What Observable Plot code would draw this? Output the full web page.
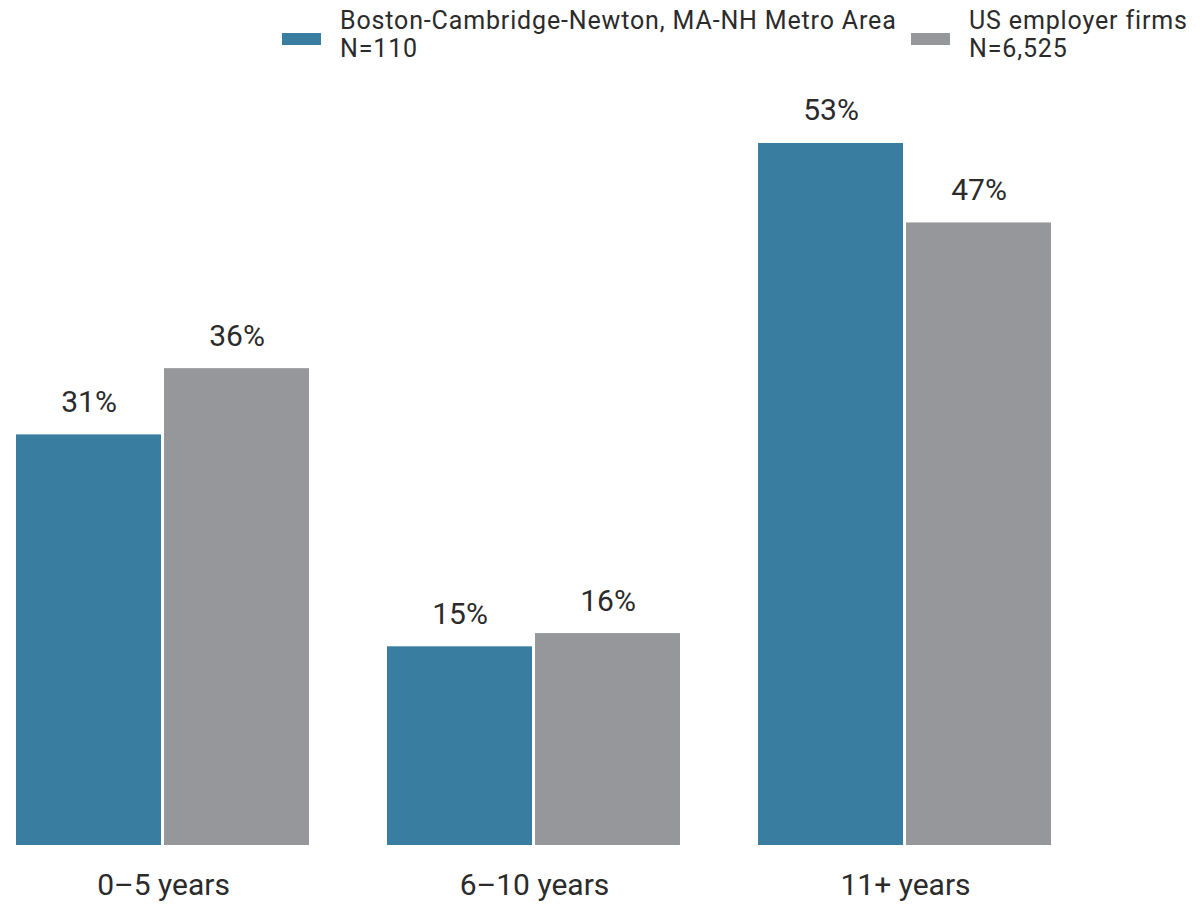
<!DOCTYPE html>
<html>
<head>
<meta charset="utf-8">
<script src="https://cdn.jsdelivr.net/npm/d3@7"></script>
<script src="https://cdn.jsdelivr.net/npm/@observablehq/plot@0.6"></script>
<style>
  html, body { margin: 0; padding: 0; background: #fff; }
  body { font-family: Roboto, "Noto Sans", sans-serif; color: #2b2b2b; width: 1204px; }
  #legend { position: relative; height: 75px; width: 1204px; }
  .item { position: absolute; top: 7px; display: flex; align-items: flex-start; }
  .sw { width: 39px; height: 12px; margin-right: 19px; margin-top: 26px; }
  .lbl { font-size: 25px; line-height: 28px; letter-spacing: 0.85px; color: #2b2b2b; white-space: nowrap; }
  #chart svg { display: block; }
</style>
</head>
<body>
<div id="legend"></div>
<div id="chart"></div>
<script>
const categories = ["0–5 years", "6–10 years", "11+ years"];
const series = ["Boston-Cambridge-Newton, MA-NH Metro Area", "US employer firms"];
const seriesN = ["N=110", "N=6,525"];
const colors = ["#397ea1", "#96979b"];
const bostonValues = [31, 15, 53];
const usValues = [36, 16, 47];

const data = [];
categories.forEach((c, i) => {
  data.push({category: c, series: series[0], value: bostonValues[i]});
  data.push({category: c, series: series[1], value: usValues[i]});
});

// Legend
const legend = document.getElementById("legend");
const legendLeft = [282, 911];
series.forEach((s, i) => {
  const item = document.createElement("div");
  item.className = "item";
  item.style.left = legendLeft[i] + "px";
  const sw = document.createElement("div");
  sw.className = "sw";
  sw.style.background = colors[i];
  const lbl = document.createElement("div");
  lbl.className = "lbl";
  lbl.innerHTML = s + "<br>" + seriesN[i];
  item.appendChild(sw);
  item.appendChild(lbl);
  legend.appendChild(item);
});

const chart = Plot.plot({
  width: 1204,
  height: 833,
  marginLeft: 15,
  marginRight: 152,
  marginTop: 41.5,
  marginBottom: 63,
  style: {fontFamily: "Roboto, 'Noto Sans', sans-serif", color: "#2b2b2b", background: "#fff"},
  fx: {domain: categories, paddingInner: 0.2086, paddingOuter: 0, label: null},
  x: {domain: series, paddingInner: 0.02, paddingOuter: 0, axis: null},
  y: {domain: [0, 55], axis: null},
  color: {domain: series, range: colors},
  marks: [
    Plot.barY(data, {fx: "category", x: "series", y: "value", fill: "series"}),
    Plot.text(data, {fx: "category", x: "series", y: "value", text: d => d.value + "%",
      lineAnchor: "bottom", dy: -23, fontSize: 30, fill: "#2b2b2b"}),
    Plot.axisFx({anchor: "bottom", tickSize: 0, tickPadding: 28, fontSize: 30, label: null, fill: "#2b2b2b"})
  ]
});
document.getElementById("chart").appendChild(chart);
</script>
</body>
</html>
